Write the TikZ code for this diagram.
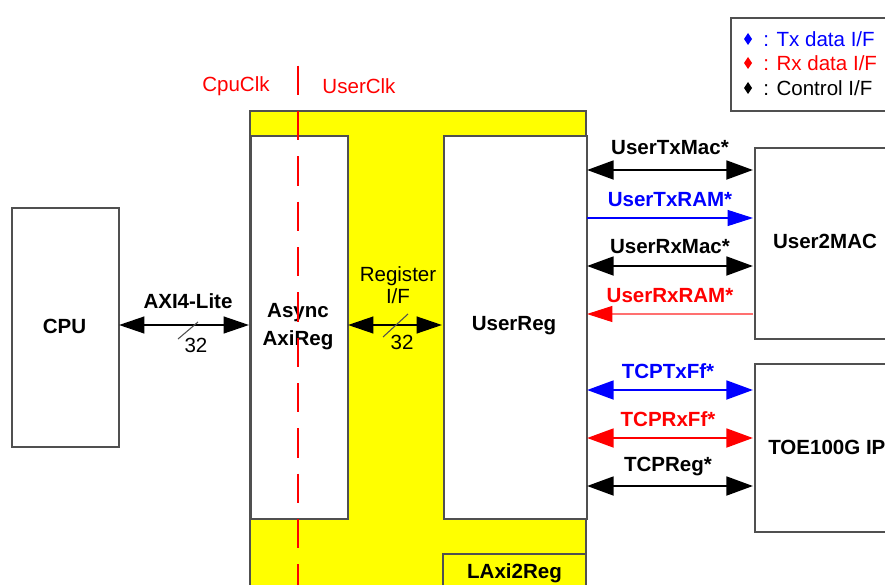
\documentclass[tikz,border=0pt]{standalone}
\usepackage{fontspec}
\setmainfont{Liberation Sans}
\usetikzlibrary{arrows.meta}
\definecolor{edge}{HTML}{505050}
\definecolor{myyellow}{HTML}{FFFF00}
\definecolor{lightred}{HTML}{FF7070}
\tikzset{
  blk/.style={draw=edge, line width=1.2pt, fill=white},
  lbl/.style={font=\fontsize{15.4}{18}\selectfont\bfseries, inner sep=0pt},
  txt/.style={font=\fontsize{15.4}{18}\selectfont, inner sep=0pt},
  bigarr/.style={line width=2.2pt, {Triangle[length=20pt,width=14pt]}-{Triangle[length=20pt,width=14pt]}},
  midarr/.style={line width=1.6pt, {Triangle[length=19pt,width=12.5pt]}-{Triangle[length=19pt,width=12.5pt]}},
  thinarr/.style={line width=0.8pt, -{Triangle[length=19pt,width=12pt]}},
}
\begin{document}
\begin{tikzpicture}[x=0.75pt,y=-0.75pt]
\clip (0,0) rectangle (885,585);
\fill[white] (0,0) rectangle (885,585);
% LAxi2Reg yellow
\draw[draw=edge, line width=1.2pt, fill=myyellow] (250,111) rectangle (586,600);
\node[blk, minimum width=97*0.75pt, minimum height=383*0.75pt, anchor=north west] (async) at (250,135) {};
\node[blk, minimum width=143*0.75pt, minimum height=383*0.75pt, anchor=north west] (ureg) at (443,135) {};
\draw[draw=edge, line width=1.2pt, fill=myyellow] (443,554) rectangle (586,600);
\node[lbl] (laxi) at (514.5,573) {LAxi2Reg};
\node[lbl, align=center] at (298,327) {Async\\[3pt]AxiReg};
\node[lbl] at (514,326) {UserReg};
% CPU
\node[blk, minimum width=107*0.75pt, minimum height=239*0.75pt, anchor=north west] (cpu) at (11,207) {};
\node[lbl] at (64.5,326) {CPU};
% clock domain line
\draw[red, line width=1.1pt, dash pattern=on 22pt off 12pt, dash phase=-2pt] (298,63) -- (298,600);
\node[txt, red] at (236,86) {CpuClk};
\node[txt, red] at (359,86) {UserClk};
% left arrows
\coordinate (a1) at (119,325); \coordinate (a2) at (249,325);
\draw[midarr] (a1) -- (a2);
\node[lbl] at (188,301) {AXI4-Lite};
\draw[edge, line width=0.8pt] (178,339) -- (198,322);
\node[txt] at (196,345) {32};
\coordinate (b1) at (348,325); \coordinate (b2) at (442,325);
\draw[midarr] (b1) -- (b2);
\node[txt, align=center] at (398,285) {Register\\[-1pt]I/F};
\draw[edge, line width=0.8pt] (383,337) -- (408,314);
\node[txt] at (402,342) {32};
% User2MAC and TOE
\node[blk, minimum width=150*0.75pt, minimum height=191*0.75pt, anchor=north west] (u2m) at (754,147) {};
\node[lbl] at (825,241) {User2MAC};
\node[blk, minimum width=150*0.75pt, minimum height=168*0.75pt, anchor=north west] (toe) at (754,363) {};
\node[lbl, anchor=west] at (768,447) {TOE100G IP};
% right arrows
\draw[bigarr] (587,170) -- (753,170);
\node[lbl] at (670,148) {UserTxMac*};
\draw[thinarr, blue] (587,218) -- (753,218);
\node[lbl, blue] at (670,200) {UserTxRAM*};
\draw[bigarr] (587,266) -- (753,266);
\node[lbl] at (670,247) {UserRxMac*};
\draw[line width=0.8pt, lightred, -{Triangle[length=19pt,width=12pt,color=red]}] (753,314) -- (587,314);
\node[lbl, red] at (670,296) {UserRxRAM*};
\draw[bigarr, blue] (587,390) -- (753,390);
\node[lbl, blue] at (668,371) {TCPTxFf*};
\draw[bigarr, red] (587,438) -- (753,438);
\node[lbl, red] at (668,419) {TCPRxFf*};
\draw[bigarr] (587,486) -- (753,486);
\node[lbl] at (668,467) {TCPReg*};
% legend
\node[draw=edge, line width=1.2pt, fill=white, minimum width=170*0.75pt, minimum height=93*0.75pt, anchor=north west] (leg) at (730,17) {};
\fill[blue] (748,33) -- (752,39) -- (748,45) -- (744,39) -- cycle;
\fill[red] (748,57) -- (752,63) -- (748,69) -- (744,63) -- cycle;
\fill[black] (748,82) -- (752,88) -- (748,94) -- (744,88) -- cycle;
\node[txt, blue, anchor=west] at (763,39) {: Tx data I/F};
\node[txt, red, anchor=west] at (763,63) {: Rx data I/F};
\node[txt, anchor=west] at (763,88) {: Control I/F};
\end{tikzpicture}
\end{document}
